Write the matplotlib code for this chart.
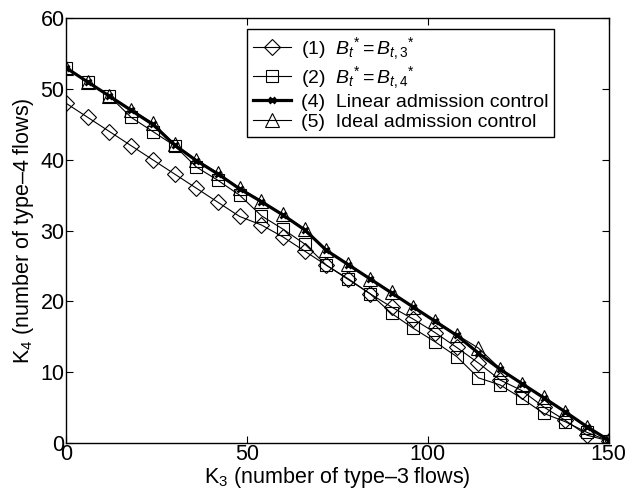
import matplotlib
matplotlib.use("Agg")
import matplotlib.pyplot as plt

plt.rcParams['font.family'] = ['Liberation Sans', 'DejaVu Sans']
plt.rcParams['mathtext.fontset'] = 'custom'
plt.rcParams['mathtext.rm'] = 'Liberation Sans'
plt.rcParams['mathtext.it'] = 'Liberation Sans:italic'

# K3 values (type-3 flows)
k3 = list(range(0, 151, 6))

# (1) B_t* = B_t,3*
k4_b3 = [48, 46, 44, 42, 40, 38, 36, 34, 32, 30.8, 29.1, 27.1, 25.1, 23.1,
         21.1, 19.2, 17.5, 15.6, 13.5, 11.3, 8.9, 7.4, 5.1, 3.2, 1.1, 0.3]
# (2) B_t* = B_t,4*
k4_b4 = [53, 51, 49, 46, 44, 42, 39, 37.1, 35, 32.1, 30.2, 28.1, 25.1, 23.2,
         21.1, 18.3, 16.2, 14.3, 12.2, 9.2, 8.2, 6.3, 4.2, 3.0, 1.5, 0.3]
# (4) linear admission control
k4_lin = [53, 51, 49, 47, 45, 42.1, 39.9, 38, 35.9, 34.1, 32.2, 30.1, 27.2, 25.2,
          23.2, 21.2, 19.2, 17.2, 15.2, 12.7, 10.4, 8.4, 6.4, 4.4, 2.3, 0.4]
# (5) ideal admission control
k4_ideal = [53, 51, 49, 47.1, 45.2, 42.2, 40, 38.1, 36, 34.2, 32.3, 30.2, 27.2, 25.3,
            23.2, 21.3, 19.2, 17.3, 15.3, 13.4, 10.5, 8.4, 6.5, 4.4, 2.3, 0.4]

labels = [r'(1)  $B_{t}{}^{*} = B_{t,3}{}^{*}$',
          r'(2)  $B_{t}{}^{*} = B_{t,4}{}^{*}$',
          '(4)  Linear admission control',
          '(5)  Ideal admission control']

fig = plt.figure(figsize=(6.26, 4.98), dpi=100)
ax = fig.add_axes([0.1054, 0.1104, 0.867, 0.853])

ax.plot(k3, k4_b3, color='black', lw=0.8, marker='D', ms=8, mfc='none',
        mew=0.8, label=labels[0])
ax.plot(k3, k4_b4, color='black', lw=0.8, marker='s', ms=8, mfc='none',
        mew=0.8, label=labels[1])
ax.plot(k3, k4_lin, color='black', lw=2.3, marker='x', ms=4, mew=2,
        label=labels[2])
ax.plot(k3, k4_ideal, color='black', lw=0.8, marker='^', ms=9.5, mfc='none',
        mew=0.8, label=labels[3])

ax.set_xlim(0, 150)
ax.set_ylim(0, 60)
ax.set_xticks([0, 50, 100, 150])
ax.set_yticks([0, 10, 20, 30, 40, 50, 60])
ax.tick_params(direction='in', top=True, right=True, labelsize=15.5, length=5, pad=1)
for s in ax.spines.values():
    s.set_linewidth(1)

ax.set_xlabel(r'$\mathregular{K_3}$ (number of type–3 flows)', fontsize=15.5, labelpad=0)
ax.set_ylabel(r'$\mathregular{K_4}$ (number of type–4 flows)', fontsize=15.5, labelpad=3)

leg = ax.legend(loc='upper left', bbox_to_anchor=(0.333, 0.974), borderaxespad=0,
                fancybox=False, edgecolor='black', fontsize=14, handlelength=2.0,
                labelspacing=0.12, borderpad=0.3, handletextpad=0.5, framealpha=1)
leg.get_frame().set_linewidth(1)

fig.savefig('out.png', dpi=100)
